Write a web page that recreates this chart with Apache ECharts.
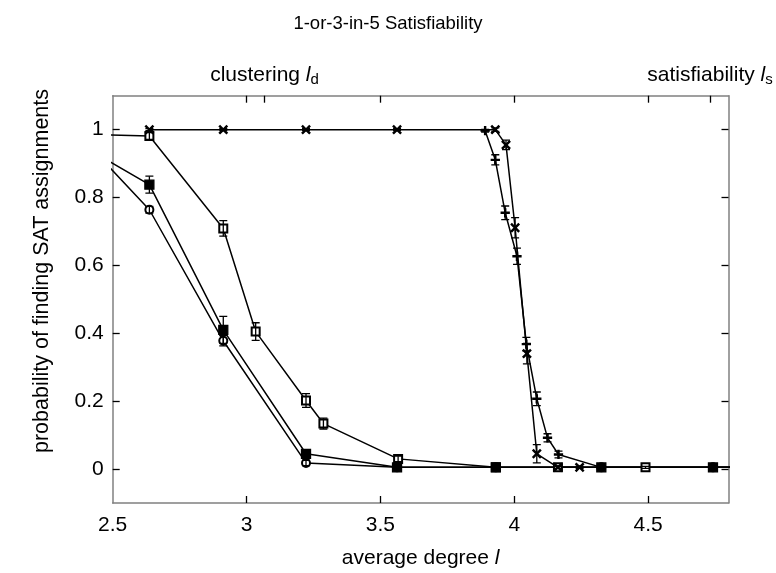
<!DOCTYPE html>
<html><head><meta charset="utf-8">
<script src="https://cdn.jsdelivr.net/npm/echarts@6/dist/echarts.min.js"></script>
<style>html,body{margin:0;padding:0;background:#fff}#c{width:776px;height:573px}</style>
</head><body><div id="c"></div>
<script>
const titleText = '1-or-3-in-5 Satisfiability';
const xLabelText = 'average degree {i|l}';
const yLabelText = 'probability of finding SAT assignments';
const xTicks = [2.5, 3, 3.5, 4, 4.5];
const yTicks = [0, 0.2, 0.4, 0.6, 0.8, 1];
const topTicks = [3.067, 4.731];
const topTickNames = ['clustering', 'satisfiability'];
const topTickSubs = ['d', 's'];

// series: crosses
const crossX = [2.637, 2.913, 3.222, 3.562, 3.929, 3.969, 4.003, 4.047, 4.084, 4.163, 4.244];
const crossY = [1.0, 1.0, 1.0, 1.0, 1.0, 0.955, 0.711, 0.34, 0.045, 0.005, 0.005];
const crossE = [0.003, 0.003, 0.003, 0.003, 0.005, 0.014, 0.03, 0.03, 0.027, 0.003, 0.003];
// series: plus
const plusX = [3.891, 3.929, 3.966, 4.01, 4.045, 4.084, 4.124, 4.165, 4.325, 4.742, 4.95];
const plusY = [0.997, 0.911, 0.755, 0.627, 0.368, 0.207, 0.092, 0.043, 0.005, 0.005, 0.005];
const plusE = [0.004, 0.015, 0.02, 0.024, 0.02, 0.02, 0.012, 0.01, 0.003, 0.003, 0];
// series: open squares
const sqX = [2.36, 2.637, 2.913, 3.034, 3.222, 3.287, 3.566, 3.931, 4.163, 4.49, 4.95];
const sqY = [0.987, 0.981, 0.709, 0.405, 0.202, 0.134, 0.03, 0.005, 0.005, 0.005, 0.005];
const sqE = [0.01, 0.01, 0.023, 0.026, 0.02, 0.016, 0.008, 0.003, 0.003, 0.003, 0];
// series: filled squares
const fsX = [2.36, 2.637, 2.913, 3.222, 3.562, 3.931, 4.325, 4.742, 4.95];
const fsY = [0.965, 0.838, 0.41, 0.045, 0.005, 0.005, 0.005, 0.005, 0.005];
const fsE = [0.02, 0.025, 0.04, 0.012, 0.003, 0.003, 0.003, 0.003, 0];
// series: open circles
const ciX = [2.36, 2.637, 2.913, 3.222, 3.562, 3.931, 4.325, 4.742, 4.95];
const ciY = [0.997, 0.764, 0.378, 0.018, 0.005, 0.005, 0.005, 0.005, 0.005];
const ciE = [0.01, 0.01, 0.015, 0.008, 0.003, 0.003, 0.003, 0.003, 0];

const FONT = 'Liberation Sans';
const crossPath = 'path://M0,1L1,0L5,4L9,0L10,1L6,5L10,9L9,10L5,6L1,10L0,9L4,5Z';
const plusPath = 'path://M4.3,0H5.7V4.3H10V5.7H5.7V10H4.3V5.7H0V4.3H4.3Z';

function pts(xs, ys) { return xs.map((x, i) => [x, ys[i]]); }
function errs(xs, ys, es) { return xs.map((x, i) => [x, ys[i] - es[i], ys[i] + es[i]]); }

function errRender(params, api) {
  const x = api.value(0), lo = api.value(1), hi = api.value(2);
  if (x < 2.5 || x > 4.8 || hi - lo <= 0) return null;
  const p1 = api.coord([x, hi]), p2 = api.coord([x, lo]);
  const w = 4;
  const st = { stroke: '#000', lineWidth: 1.3 };
  return { type: 'group', children: [
    { type: 'line', shape: { x1: p1[0], y1: p1[1], x2: p2[0], y2: p2[1] }, style: st },
    { type: 'line', shape: { x1: p1[0] - w, y1: p1[1], x2: p1[0] + w, y2: p1[1] }, style: st },
    { type: 'line', shape: { x1: p2[0] - w, y1: p2[1], x2: p2[0] + w, y2: p2[1] }, style: st }
  ]};
}

function lineSeries(data, symbol, size) {
  return { type: 'line', data: data, symbol: symbol, symbolSize: size, showSymbol: true,
    clip: true, animation: false, z: 3,
    lineStyle: { color: '#000', width: 1.5 },
    itemStyle: { color: '#000', borderColor: '#000', borderWidth: 1.3 } };
}
function errSeries(data) {
  return { type: 'custom', renderItem: errRender, data: data, clip: true, animation: false, z: 4,
    encode: { x: 0, y: [1, 2] } };
}

const axisLineStyle = { color: '#808080', width: 1.5 };
const tickStyle = { color: '#000', width: 1.3 };

const chart = echarts.init(document.getElementById('c'));
chart.setOption({
  animation: false,
  backgroundColor: '#fff',
  title: { text: titleText, left: 'center', top: 9,
    textStyle: { fontFamily: FONT, fontSize: 18.5, fontWeight: 'normal', color: '#000' } },
  grid: { left: 112.7, right: 47.5, top: 95.7, bottom: 70, containLabel: false, outerBoundsMode: 'none' },
  graphic: [{ type: 'text', x: 42, y: 271, rotation: Math.PI / 2,
    style: { text: yLabelText, fontFamily: FONT, fontSize: 21.5, fill: '#000', align: 'center', verticalAlign: 'middle' } }],
  xAxis: [
    { type: 'value', position: 'bottom', min: 2.5, max: 4.8,
      axisLine: { show: true, onZero: false, lineStyle: axisLineStyle },
      axisTick: { show: true, inside: true, length: 7, lineStyle: tickStyle, customValues: [3, 3.5, 4, 4.5] },
      axisLabel: { customValues: xTicks, fontFamily: FONT, fontSize: 21, color: '#000', margin: 12,
        formatter: v => String(v) },
      splitLine: { show: false },
      name: xLabelText, nameLocation: 'middle', nameGap: 45,
      nameTextStyle: { fontFamily: FONT, fontSize: 21, color: '#000',
        rich: { i: { fontFamily: FONT, fontSize: 21, fontStyle: 'italic', color: '#000' } } } },
    { type: 'value', position: 'top', min: 2.5, max: 4.8,
      axisLine: { show: true, onZero: false, lineStyle: axisLineStyle },
      axisTick: { show: true, inside: true, length: 7, lineStyle: tickStyle, customValues: [3, 3.5, 4, 4.5].concat(topTicks) },
      axisLabel: { customValues: topTicks, fontFamily: FONT, fontSize: 21, color: '#000', margin: 8,
        formatter: v => { const i = topTicks.indexOf(v); return i < 0 ? '' : topTickNames[i] + ' {i|l}{s|' + topTickSubs[i] + '}'; },
        rich: { i: { fontFamily: FONT, fontSize: 21, fontStyle: 'italic', color: '#000' },
                s: { fontFamily: FONT, fontSize: 15, color: '#000', padding: [10, 0, 0, 0] } } },
      splitLine: { show: false } }
  ],
  yAxis: [
    { type: 'value', position: 'left', min: -0.1, max: 1.1,
      axisLine: { show: true, onZero: false, lineStyle: axisLineStyle },
      axisTick: { show: true, inside: true, length: 7, lineStyle: tickStyle, customValues: yTicks },
      axisLabel: { customValues: yTicks, fontFamily: FONT, fontSize: 21, color: '#000', margin: 9,
        formatter: v => String(Math.round(v * 10) / 10) },
      splitLine: { show: false } },
    { type: 'value', position: 'right', min: -0.1, max: 1.1,
      axisLine: { show: true, onZero: false, lineStyle: axisLineStyle },
      axisTick: { show: true, inside: true, length: 7, lineStyle: tickStyle, customValues: yTicks },
      axisLabel: { show: false },
      splitLine: { show: false } }
  ],
  series: [
    lineSeries(pts(ciX, ciY), 'emptyCircle', 8),
    errSeries(errs(ciX, ciY, ciE)),
    lineSeries(pts(sqX, sqY), 'emptyRect', 8),
    errSeries(errs(sqX, sqY, sqE)),
    lineSeries(pts(fsX, fsY), 'rect', 9),
    errSeries(errs(fsX, fsY, fsE)),
    lineSeries(pts(plusX, plusY), plusPath, 8),
    errSeries(errs(plusX, plusY, plusE)),
    lineSeries(pts(crossX, crossY), crossPath, 8),
    errSeries(errs(crossX, crossY, crossE))
  ]
});
</script></body></html>
